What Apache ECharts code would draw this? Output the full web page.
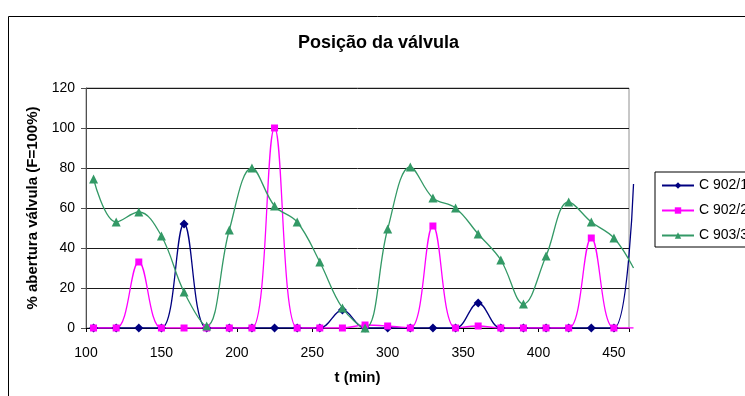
<!DOCTYPE html>
<html>
<head>
<meta charset="utf-8">
<script src="https://cdn.jsdelivr.net/npm/echarts@6/dist/echarts.min.js"></script>
<style>
  html, body { margin: 0; padding: 0; background: #fff; }
  #chart { width: 745px; height: 396px; }
</style>
</head>
<body>
<div id="chart"></div>
<script>
// Sampling times (min); the last sample lies just past the axis end
const times = [105, 120, 135, 150, 165, 180, 195, 210, 225, 240, 255, 270,
               285, 300, 315, 330, 345, 360, 375, 390, 405, 420, 435, 450, 463];

// Valve opening (%) per controller
const valveC9021 = [0, 0, 0, 0, 52, 0, 0, 0, 0, 0, 0, 9,
                    0, 0, 0, 0, 0, 12.5, 0, 0, 0, 0, 0, 0, 72];
const valveC9022 = [0, 0, 33, 0, 0, 0, 0, 0, 100, 0, 0, 0,
                    1.5, 1, 0, 51, 0, 1, 0, 0, 0, 0, 45, 0, 0];
const valveC9033 = [74.5, 53, 58, 46, 18, 1, 49, 80, 61, 53, 33, 10,
                    0, 49.5, 80.5, 65, 60, 47, 34, 12, 36, 63, 53, 45, 30];

const seriesNames = ['C 902/1', 'C 902/2', 'C 903/3'];
const yTicks = [0, 20, 40, 60, 80, 100, 120];
const xTicks = [100, 150, 200, 250, 300, 350, 400, 450];
const X_MIN = 100;
const X_MAX = 460;

const FONT = '"Liberation Sans", Arial, sans-serif';

// Plot frame (px)
const PLOT_LEFT = 86, PLOT_RIGHT = 629, PLOT_TOP = 88, PLOT_BOTTOM = 328;
const W = 745, H = 396;
// Lines run a few pixels past the frame; a second grid with the same
// horizontal scale but a slightly wider extent carries the series.
const LINE_RIGHT = 636;
const pxPerMin = (PLOT_RIGHT - PLOT_LEFT) / (X_MAX - X_MIN);
const X_MAX_LINES = X_MIN + (LINE_RIGHT - PLOT_LEFT) / pxPerMin;

function toPoints(values) {
  return times.map(function (t, i) {
    // the trailing sample only continues the line, without a marker
    if (i === times.length - 1) return { value: [t, values[i]], symbol: 'none' };
    return [t, values[i]];
  });
}

function makeSeries(name, values, color, symbol, size) {
  return {
    name: name,
    type: 'line',
    xAxisIndex: 1,
    yAxisIndex: 1,
    smooth: 0.38,
    data: toPoints(values),
    symbol: symbol,
    symbolSize: size,
    showAllSymbol: true,
    lineStyle: { color: color, width: 1.3 },
    itemStyle: { color: color, borderWidth: 0 },
    emphasis: { disabled: true }
  };
}

const chart = echarts.init(document.getElementById('chart'), null, { renderer: 'canvas' });

chart.setOption({
  animation: false,
  backgroundColor: '#ffffff',
  title: {
    text: 'Posição da válvula',
    left: 298,
    top: 34,
    padding: 0,
    textStyle: { fontFamily: FONT, fontSize: 18, fontWeight: 'bold', color: '#000' }
  },
  graphic: [{
    type: 'rect',
    shape: { x: 8.5, y: 16.5, width: 800, height: 420 },
    style: { fill: 'none', stroke: '#000', lineWidth: 1 },
    z: -1
  }],
  legend: {
    orient: 'vertical',
    left: 655,
    top: 172,
    padding: [6, 40, 4, 6],
    itemWidth: 32,
    itemHeight: 8,
    itemGap: 10,
    borderColor: '#000',
    borderWidth: 1,
    backgroundColor: '#fff',
    data: seriesNames,
    textStyle: { fontFamily: FONT, fontSize: 14, color: '#000', lineHeight: 15 }
  },
  grid: [{
    left: PLOT_LEFT,
    right: W - PLOT_RIGHT,
    top: PLOT_TOP,
    bottom: H - PLOT_BOTTOM,
    show: true,
    borderColor: '#909090',
    borderWidth: 1,
    backgroundColor: 'transparent'
  }, {
    left: PLOT_LEFT,
    right: W - LINE_RIGHT,
    top: PLOT_TOP,
    bottom: H - PLOT_BOTTOM,
    show: false
  }],
  xAxis: [{
    type: 'value',
    gridIndex: 0,
    min: X_MIN,
    max: X_MAX,
    interval: 50,
    name: 't (min)',
    nameLocation: 'middle',
    nameGap: 42,
    nameTextStyle: { fontFamily: FONT, fontSize: 15, fontWeight: 'bold', color: '#000' },
    axisLine: { show: true, onZero: false, lineStyle: { color: '#000', width: 1 } },
    axisTick: { show: true, inside: false, length: 4, lineStyle: { color: '#000' } },
    axisLabel: {
      margin: 18,
      fontFamily: FONT, fontSize: 14, color: '#000',
      formatter: function (v) { return xTicks.indexOf(v) >= 0 ? String(v) : ''; }
    },
    splitLine: { show: false }
  }, {
    type: 'value',
    gridIndex: 1,
    min: X_MIN,
    max: X_MAX_LINES,
    show: false
  }],
  yAxis: [{
    type: 'value',
    gridIndex: 0,
    min: yTicks[0],
    max: yTicks[yTicks.length - 1],
    interval: 20,
    name: '% abertura válvula (F=100%)',
    nameLocation: 'middle',
    nameGap: 42,
    nameTextStyle: { fontFamily: FONT, fontSize: 15, fontWeight: 'bold', color: '#000' },
    axisLine: { show: true, lineStyle: { color: '#505050', width: 1 } },
    axisTick: { show: true, inside: false, length: 5, lineStyle: { color: '#505050' } },
    axisLabel: { margin: 11, fontFamily: FONT, fontSize: 14, color: '#000' },
    splitLine: { show: true, lineStyle: { color: '#1a1a1a', width: 1 } }
  }, {
    type: 'value',
    gridIndex: 1,
    min: yTicks[0],
    max: yTicks[yTicks.length - 1],
    show: false
  }],
  series: [
    makeSeries(seriesNames[0], valveC9021, '#000080', 'diamond', 9),
    makeSeries(seriesNames[1], valveC9022, '#ff00ff', 'rect', 7),
    makeSeries(seriesNames[2], valveC9033, '#339966', 'triangle', 9)
  ]
});
</script>
</body>
</html>
